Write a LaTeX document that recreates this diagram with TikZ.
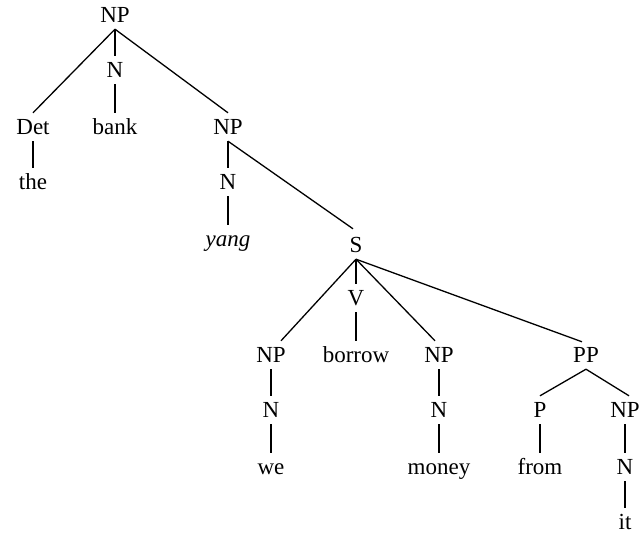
\documentclass[tikz,border=0pt]{standalone}
\usepackage{fontspec}
\setmainfont{Liberation Serif}
\begin{document}
\begin{tikzpicture}[x=1pt,y=-1pt,
  lab/.style={anchor=base,inner xsep=0pt,inner ysep=4pt,text height=17.5pt,text depth=2.5pt,font=\fontsize{23}{27}\selectfont},
  edge/.style={line width=1.3pt}]
\useasboundingbox (0,0) rectangle (642,534);
% levels given as cap centre + 7.5 (baseline)
\node[lab] (np0) at (115,22.5) {NP};
\node[lab] (n0) at (115,77.5) {N};
\node[lab] (det) at (33,134.5) {Det};
\node[lab] (bank) at (115,134.5) {bank};
\node[lab] (np1) at (228,134.5) {NP};
\node[lab] (the) at (33,189.5) {the};
\node[lab] (n1) at (228,189.5) {N};
\node[lab] (yang) at (228,247) {\textit{yang}};
\node[lab] (s) at (356,252.5) {S};
\node[lab] (v) at (356,305.5) {V};
\node[lab] (np2) at (271,362.5) {NP};
\node[lab] (borrow) at (356,362.5) {borrow};
\node[lab] (np3) at (439,362.5) {NP};
\node[lab] (pp) at (586,362.5) {PP};
\node[lab] (n2) at (271,417.5) {N};
\node[lab] (n3) at (439,417.5) {N};
\node[lab] (p) at (540,417.5) {P};
\node[lab] (np4) at (625,417.5) {NP};
\node[lab] (we) at (271,474.5) {we};
\node[lab] (money) at (439,474.5) {money};
\node[lab] (from) at (540,474.5) {from};
\node[lab] (n4) at (625,474.5) {N};
\node[lab] (it) at (625,529.5) {it};
% connectors
\draw[edge] (np0.south) -- (det.north);
\draw[edge] (np0.south) -- (n0.north);
\draw[edge] (np0.south) -- (np1.north);
\draw[edge] (n0.south) -- (bank.north);
\draw[edge] (det.south) -- (the.north);
\draw[edge] (np1.south) -- (n1.north);
\draw[edge] (n1.south) -- (yang.north);
\draw[edge] (np1.south) -- ([xshift=-3pt,yshift=2pt]s.north);
\draw[edge] (s.south) -- ([xshift=10pt]np2.north);
\draw[edge] (s.south) -- (v.north);
\draw[edge] (s.south) -- ([xshift=-4pt]np3.north);
\draw[edge] (s.south) -- ([xshift=-4pt,yshift=-1pt]pp.north);
\draw[edge] (v.south) -- (borrow.north);
\draw[edge] (np2.south) -- (n2.north);
\draw[edge] (n2.south) -- (we.north);
\draw[edge] (np3.south) -- (n3.north);
\draw[edge] (n3.south) -- (money.north);
\draw[edge] (pp.south) -- (p.north);
\draw[edge] (pp.south) -- ([xshift=4pt]np4.north);
\draw[edge] (p.south) -- (from.north);
\draw[edge] (np4.south) -- (n4.north);
\draw[edge] (n4.south) -- (it.north);
\end{tikzpicture}
\end{document}
